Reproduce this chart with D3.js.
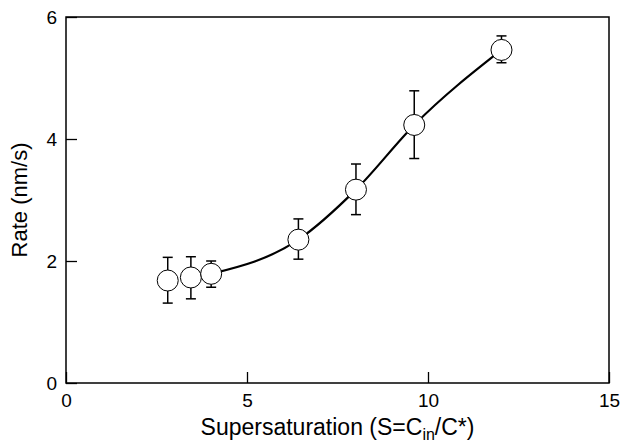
<!DOCTYPE html>
<html>
<head>
<meta charset="utf-8">
<script src="https://cdn.jsdelivr.net/npm/d3@7"></script>
<style>
  body { margin: 0; background: #fff; }
  svg text { font-family: "Liberation Sans", Arial, sans-serif; fill: #000; }
</style>
</head>
<body>
<div id="chart"></div>
<script>
// datos
const supersat = [2.81, 3.45, 4.01, 6.42, 8.01, 9.62, 12.03];
const rate     = [1.68, 1.73, 1.79, 2.35, 3.17, 4.23, 5.46];
const errLow   = [1.31, 1.38, 1.57, 2.03, 2.76, 3.68, 5.25];
const errHigh  = [2.06, 2.07, 2.00, 2.69, 3.59, 4.79, 5.69];
// curva de ajuste (empieza en el tercer punto)
const fitX = [4.01, 6.42, 8.01, 9.62, 12.03];
const fitY = [1.79, 2.35, 3.17, 4.23, 5.46];
const xTicks = [0, 5, 10, 15];
const yTicks = [0, 2, 4, 6];

const width = 620, height = 445;
const margin = {top: 17, right: 11, bottom: 62, left: 66};

const svg = d3.select("#chart").append("svg")
  .attr("width", width).attr("height", height);

const x = d3.scaleLinear().domain([0, 15]).range([margin.left, width - margin.right]);
const y = d3.scaleLinear().domain([0, 6]).range([height - margin.bottom, margin.top]);

// marco
svg.append("rect")
  .attr("x", x(0)).attr("y", y(6))
  .attr("width", x(15) - x(0)).attr("height", y(0) - y(6))
  .attr("fill", "none").attr("stroke", "#000").attr("stroke-width", 1.5);

// ejes (ticks hacia adentro)
const xAxis = svg.append("g")
  .attr("transform", `translate(0,${y(0)})`)
  .call(d3.axisBottom(x).tickValues(xTicks).tickFormat(d3.format("d"))
    .tickSizeInner(-11).tickSizeOuter(0).tickPadding(11));
const yAxis = svg.append("g")
  .attr("transform", `translate(${x(0)},0)`)
  .call(d3.axisLeft(y).tickValues(yTicks).tickFormat(d3.format("d"))
    .tickSizeInner(-11).tickSizeOuter(0).tickPadding(9));

[xAxis, yAxis].forEach(a => {
  a.select(".domain").remove();
  a.selectAll(".tick line").attr("stroke", "#000").attr("stroke-width", 1.3);
  a.selectAll(".tick text").attr("font-size", 19).attr("font-family", '"Liberation Sans", Arial, sans-serif');
});

// curva
const line = d3.line().x(d => x(d[0])).y(d => y(d[1])).curve(d3.curveMonotoneX);
svg.append("path")
  .datum(fitX.map((v, i) => [v, fitY[i]]))
  .attr("d", line)
  .attr("fill", "none").attr("stroke", "#000").attr("stroke-width", 2.2);

// barras de error
const pts = supersat.map((v, i) => ({x: v, y: rate[i], lo: errLow[i], hi: errHigh[i]}));
const eb = svg.append("g").attr("stroke", "#000").attr("stroke-width", 1.5);
eb.selectAll("line.v").data(pts).join("line")
  .attr("x1", d => x(d.x)).attr("x2", d => x(d.x))
  .attr("y1", d => y(d.lo)).attr("y2", d => y(d.hi));
eb.selectAll("line.t").data(pts).join("line")
  .attr("x1", d => x(d.x) - 5).attr("x2", d => x(d.x) + 5)
  .attr("y1", d => y(d.hi)).attr("y2", d => y(d.hi));
eb.selectAll("line.b").data(pts).join("line")
  .attr("x1", d => x(d.x) - 5).attr("x2", d => x(d.x) + 5)
  .attr("y1", d => y(d.lo)).attr("y2", d => y(d.lo));

// puntos
svg.append("g").selectAll("circle").data(pts).join("circle")
  .attr("cx", d => x(d.x)).attr("cy", d => y(d.y)).attr("r", 10.5)
  .attr("fill", "#fff").attr("stroke", "#000").attr("stroke-width", 1);

// titulos de ejes
const xt = svg.append("text")
  .attr("x", (x(0) + x(15)) / 2).attr("y", 435)
  .attr("text-anchor", "middle").attr("font-size", 23);
xt.append("tspan").text("Supersaturation (S=C");
xt.append("tspan").attr("dy", 5).attr("font-size", 16).text("in");
xt.append("tspan").attr("dy", -5).text("/C*)");

svg.append("text")
  .attr("transform", `translate(27,${(y(0) + y(6)) / 2}) rotate(-90)`)
  .attr("text-anchor", "middle").attr("font-size", 22)
  .text("Rate (nm/s)");
</script>
</body>
</html>
